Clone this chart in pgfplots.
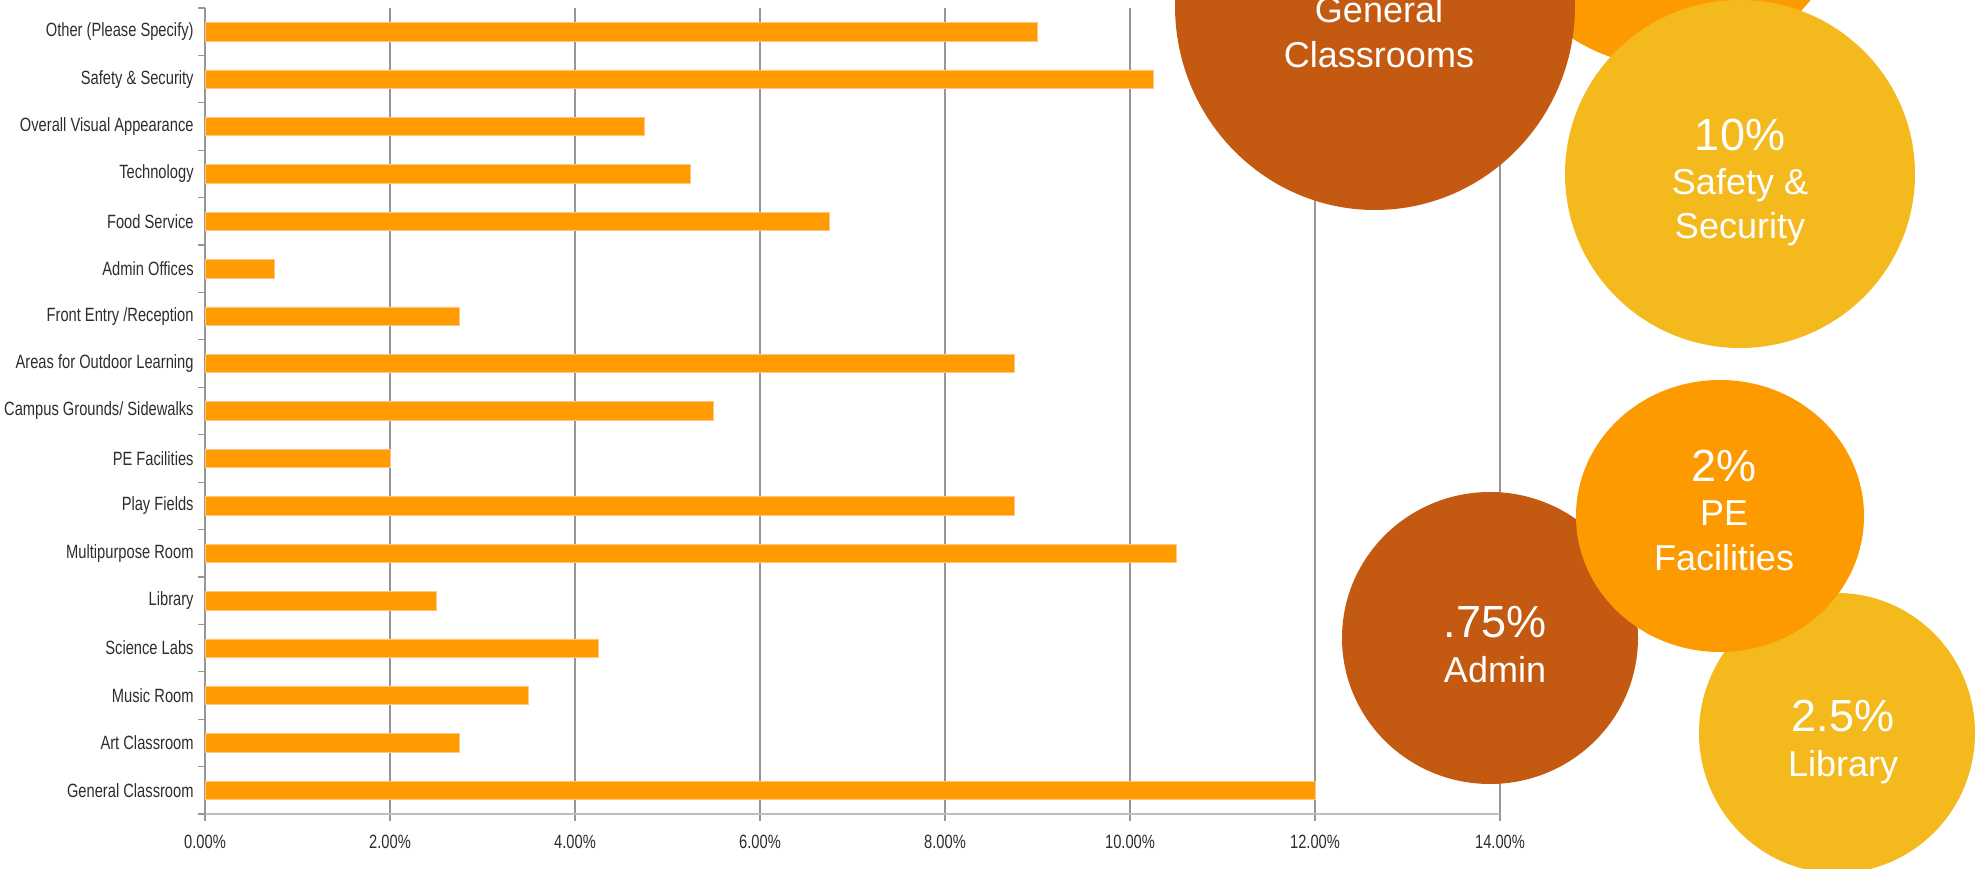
\documentclass[border=0pt]{standalone}
\usepackage{fontspec}
\setmainfont{Liberation Sans}[FakeStretch=0.765]
\newfontfamily\bubblefont{Liberation Sans}
\usepackage{pgfplots}
\pgfplotsset{compat=1.18}

\definecolor{barorange}{RGB}{255,155,0}
\definecolor{baredge}{RGB}{255,200,130}
\definecolor{darkbubble}{RGB}{196,90,17}
\definecolor{orangebubble}{RGB}{252,154,0}
\definecolor{yellowbubble}{RGB}{244,186,29}
\definecolor{gridgray}{RGB}{150,150,150}
\definecolor{axisgray}{RGB}{190,190,190}
\definecolor{labelgray}{RGB}{45,45,45}

\begin{document}
\begin{tikzpicture}
% picture is 1986 x 868 px, 1 px = 0.5pt, axis origin at px (205,814)
\useasboundingbox (-102.5pt,-27pt) rectangle (890.5pt,407pt);
\clip (-102.5pt,-27pt) rectangle (890.5pt,407pt);
\begin{axis}[
    at={(0pt,0pt)}, anchor=south west,
    scale only axis, width=647.5pt, height=403pt,
    xbar, bar width=9.2pt,
    xmin=0, xmax=14, ymin=-0.5, ymax=16.5,
    axis x line*=bottom, axis y line*=left,
    x axis line style={color=axisgray, line width=0.9pt},
    y axis line style={color=gridgray, line width=0.6pt},
    xtick={0,2,...,14},
    xticklabels={0.00\%,2.00\%,4.00\%,6.00\%,8.00\%,10.00\%,12.00\%,14.00\%},
    minor xtick={0,2,...,14},
    ytick={0,...,16},
    yticklabels={General Classroom, Art Classroom, Music Room, Science Labs,
        Library, Multipurpose Room, Play Fields, PE Facilities,
        Campus Grounds/ Sidewalks, Areas for Outdoor Learning,
        Front Entry /Reception, Admin Offices, Food Service, Technology,
        Overall Visual Appearance, Safety \& Security, Other (Please Specify)},
    minor ytick={-0.5,0.5,...,16.5},
    major tick length=0pt, minor tick length=3.3pt,
    tick align=outside,
    minor tick style={color=gridgray, line width=0.6pt},
    xmajorgrids,
    major x grid style={color=gridgray, line width=0.65pt},
    tick label style={font=\fontsize{9.6pt}{10.5pt}\selectfont, text=labelgray, inner sep=0pt},
    xticklabel style={anchor=north, yshift=-10.3pt},
    yticklabel style={anchor=east, xshift=-5.5pt},
]
\addplot[fill=barorange, draw=baredge, line width=0.3pt] coordinates {
    (12.0,0) (2.75,1) (3.5,2) (4.25,3) (2.5,4) (10.5,5) (8.75,6) (2.0,7)
    (5.5,8) (8.75,9) (2.75,10) (0.75,11) (6.75,12) (5.25,13) (4.75,14)
    (10.25,15) (9.0,16)
};
\end{axis}

% callout bubbles, in pixel units of the reference
\begin{scope}[x=0.5pt, y=-0.5pt, shift={(-102.5pt,407pt)}]
\fill[orangebubble] (1670,-114) circle [radius=90.5pt];
\fill[darkbubble] (1375,6) ellipse [x radius=100pt, y radius=102pt];
\fill[yellowbubble] (1740,174) ellipse [x radius=87.5pt, y radius=87pt];
\fill[yellowbubble] (1837,733) ellipse [x radius=69pt, y radius=70pt];
\fill[darkbubble] (1490,638) ellipse [x radius=74pt, y radius=73pt];
\fill[orangebubble] (1720,516) ellipse [x radius=72pt, y radius=68pt];

\begin{scope}[every node/.style={text=white, anchor=base, inner sep=0pt}]
\def\pct{\bubblefont\fontsize{22.5pt}{24pt}\selectfont}
\def\wrd{\bubblefont\fontsize{18pt}{20pt}\selectfont}
\node[font=\wrd] at (1379,23) {General};
\node[font=\wrd] at (1379,68) {Classrooms};
\node[font=\pct] at (1740,151) {10\%};
\node[font=\wrd] at (1740,195) {Safety \&};
\node[font=\wrd] at (1740,239) {Security};
\node[font=\pct] at (1495,638) {.75\%};
\node[font=\wrd] at (1495,683) {Admin};
\node[font=\pct] at (1724,482) {2\%};
\node[font=\wrd] at (1724,526) {PE};
\node[font=\wrd] at (1724,571) {Facilities};
\node[font=\pct] at (1843,731) {2.5\%};
\node[font=\wrd] at (1843,776) {Library};
\end{scope}
\end{scope}
\end{tikzpicture}
\end{document}
